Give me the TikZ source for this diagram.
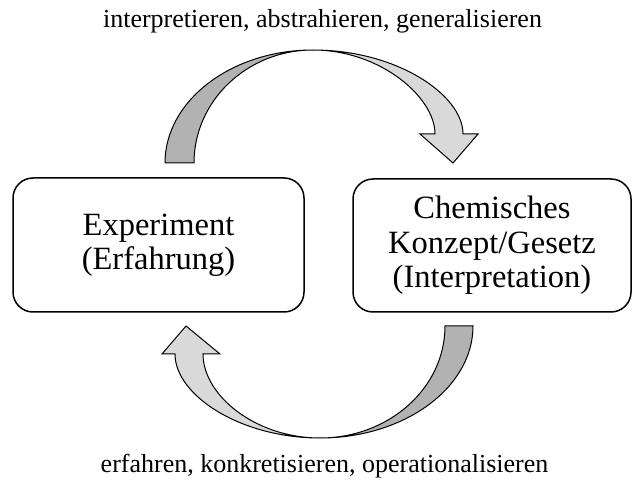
\documentclass[tikz,border=0pt]{standalone}
\usepackage{fontspec}
\setmainfont{Liberation Serif}
\begin{document}
\begin{tikzpicture}[x=1pt,y=-1pt,
  box/.style={draw=black,line width=1.5pt,rounded corners=20pt,align=center,
    inner sep=0pt,font=\fontsize{32.5}{34.5}\selectfont},
  label/.style={font=\fontsize{26}{30}\selectfont,inner sep=0pt,anchor=base},
  darkpart/.style={fill=black!30,draw=black,line width=1pt,line join=miter},
  lightpart/.style={fill=black!15,draw=black,line width=1pt,line join=miter}]
\useasboundingbox (0,0) rectangle (633,484);
\node[box,minimum width=291pt,minimum height=134pt] (exp) at (158.5,245) {Experiment\\(Erfahrung)};
\node[box,minimum width=278pt,minimum height=133pt] (kon) at (492,245.5) {Chemisches\\Konzept/Gesetz\\(Interpretation)};
\node[label] (top) at (322.5,28) {interpretieren, abstrahieren, generalisieren};
\node[label] (bot) at (324.5,472) {erfahren, konkretisieren, operationalisieren};
% top arrow
\coordinate (ta) at (313,50);
\draw[darkpart] (165,163) .. controls (165,101) and (231,50) .. (ta)
  .. controls (247,50) and (194,101) .. (194,163) -- cycle;
\draw[lightpart] (ta) .. controls (397,50) and (463,95) .. (463,134)
  -- (478,134) -- (453,163) -- (420,134) -- (435,134)
  .. controls (435,97) and (380,50) .. (ta) -- cycle;
% bottom arrow
\coordinate (ba) at (320,438);
\draw[darkpart] (473,326) .. controls (473,388) and (404,438) .. (ba)
  .. controls (389,438) and (445,388) .. (445,326) -- cycle;
\draw[lightpart] (ba) .. controls (240,438) and (175,395) .. (175,354)
  -- (162,354) -- (186,326) -- (220,354) -- (203,354)
  .. controls (203,395) and (255,438) .. (ba) -- cycle;
\end{tikzpicture}
\end{document}
